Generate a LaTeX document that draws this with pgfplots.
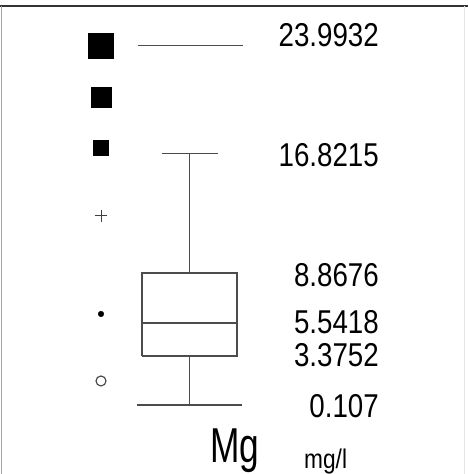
\documentclass[border=0pt]{standalone}
\usepackage{fontspec}
\setmainfont{Liberation Sans}
\newfontfamily\numfont{Liberation Sans}[FakeStretch=0.84]
\newfontfamily\bigfont{Liberation Sans}[FakeStretch=0.72]
\usepackage{pgfplots}
\pgfplotsset{compat=1.18}

\begin{document}
\begin{tikzpicture}
\begin{axis}[
    name=ax,
    scale only axis, width=468pt, height=474pt,
    xmin=0, xmax=468, ymin=-4.481, ymax=27.03,
    hide axis, clip=false,
]
% frame
\addplot[black!80, line width=2.4pt] coordinates {(0,26.636) (468,26.636)};
\addplot[black!35, line width=0.8pt] coordinates {(1.5,26.636) (1.5,-4.481)};
\addplot[black!10, line width=0.8pt] coordinates {(464,26.636) (464,-4.481)};

% box: quartiles 3.3752 / 8.8676, median 5.5418
\addplot[black!70, line width=1.5pt] coordinates {(142,3.3752) (237,3.3752) (237,8.8676) (142,8.8676) (142,3.3752)};
\addplot[black!70, line width=1.5pt] coordinates {(142,5.5418) (237,5.5418)};
% whiskers
\addplot[black!70, line width=1.5pt] coordinates {(189.5,0.107) (189.5,3.3752)};
\addplot[black!70, line width=1.5pt] coordinates {(189.5,8.8676) (189.5,16.8215)};
% whisker caps and maximum
\addplot[black!70, line width=1.5pt] coordinates {(137,0.107) (242,0.107)};
\addplot[black!70, line width=1.5pt] coordinates {(162,16.8215) (218,16.8215)};
\addplot[black!70, line width=1.5pt] coordinates {(138,23.9932) (243,23.9932)};

% symbol key
\addplot[only marks, mark=square*, mark size=12.5pt, black] coordinates {(101,23.99)};
\addplot[only marks, mark=square*, mark size=10pt, black] coordinates {(101,20.586)};
\addplot[only marks, mark=square*, mark size=7.5pt, black] coordinates {(101,17.195)};
\addplot[only marks, mark=+, mark size=6pt, black!75, line width=1pt] coordinates {(101,12.673)};
\addplot[only marks, mark=*, mark size=2.8pt, black] coordinates {(101,6.158)};
\addplot[only marks, mark=o, mark size=5pt, black!75, line width=1.1pt] coordinates {(101,1.703)};

% value labels
\begin{scope}[every node/.style={anchor=east, inner sep=0pt, font=\numfont\fontsize{33}{36}\selectfont}]
\node at (axis cs:379,24.71) {23.9932};
\node at (axis cs:379,16.73) {16.8215};
\node at (axis cs:379,8.75) {8.8676};
\node at (axis cs:379,5.63) {5.5418};
\node at (axis cs:379,3.43) {3.3752};
\node at (axis cs:379,0.04) {0.107};
\end{scope}

\node[anchor=base west, inner sep=0pt, font=\bigfont\fontsize{49}{52}\selectfont] at (axis cs:210,-3.749) {Mg};
\node[anchor=base west, inner sep=0pt, font=\numfont\fontsize{27}{30}\selectfont] at (axis cs:304,-4.148) {mg/l};
\end{axis}
\pgfresetboundingbox
\useasboundingbox (ax.south west) rectangle (ax.north east);
\end{tikzpicture}
\end{document}
